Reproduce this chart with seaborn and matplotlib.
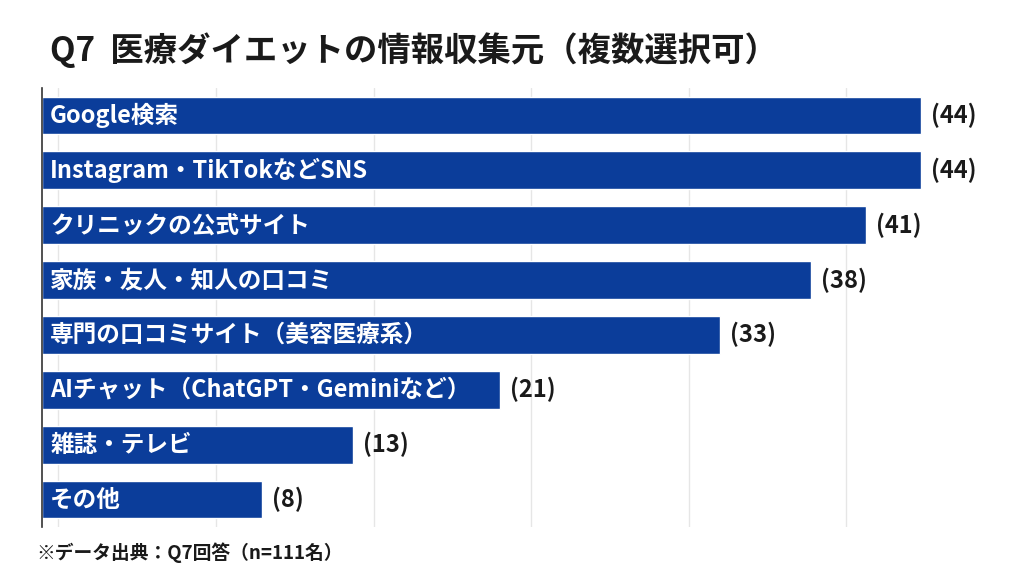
import matplotlib
matplotlib.use("Agg")
import matplotlib.pyplot as plt
import seaborn as sns
import pandas as pd
import numpy as np

categories = ["Google検索", "Instagram・TikTokなどSNS", "クリニックの公式サイト",
              "家族・友人・知人の口コミ", "専門の口コミサイト（美容医療系）",
              "AIチャット（ChatGPT・Geminiなど）", "雑誌・テレビ", "その他"]
values = [44, 44, 41, 38, 33, 21, 13, 8]

sns.set_theme(style="white")
plt.rcParams['font.family'] = ['Noto Sans CJK JP', 'DejaVu Sans']

df = pd.DataFrame({"cat": categories, "val": values})
fig = plt.figure(figsize=(10.24, 5.72), dpi=100)
ax = fig.add_axes([42/1024, 1-527/572, 958/1024, (527-88)/572])
sns.barplot(data=df, x="val", y="cat", color="#0b3d9a", saturation=1, width=0.69, ax=ax, zorder=3)
ax.set_xlim(-4, 48.3)
ax.set_xticks(np.arange(-3.1, 48, 8.6))
ax.grid(axis="x", color="#e6e6e6", lw=1, zorder=0)
ax.set_xticklabels([]); ax.set_yticklabels([])
ax.tick_params(length=0)
ax.set_xlabel(""); ax.set_ylabel("")
for s in ["top", "right", "bottom"]:
    ax.spines[s].set_visible(False)
ax.spines["left"].set_color("#333333"); ax.spines["left"].set_linewidth(1.2)
ax.spines["left"].set_zorder(5)
# make bars start at left spine
for p in ax.patches:
    w = p.get_x() + p.get_width()
    p.set_x(-4); p.set_width(w + 4)
for i, (c, v) in enumerate(zip(categories, values)):
    ax.text(-3.55, i, c, color="white", fontsize=17, fontweight="bold", va="center", ha="left", zorder=4)
    ax.text(v + 0.55, i, f"({v})", color="#1a1a1a", fontsize=17, fontweight="bold", va="center", ha="left", zorder=4)
fig.text(50/1024, 1-50/572, "Q7  医療ダイエットの情報収集元（複数選択可）", fontsize=24, fontweight="bold",
         color="#1a1a1a", va="center", ha="left")
fig.text(36/1024, 1-553/572, "※データ出典：Q7回答（n=111名）", fontsize=13.5, fontweight="bold",
         color="#1a1a1a", va="center", ha="left")
fig.savefig("out.png", dpi=100, facecolor="white")
